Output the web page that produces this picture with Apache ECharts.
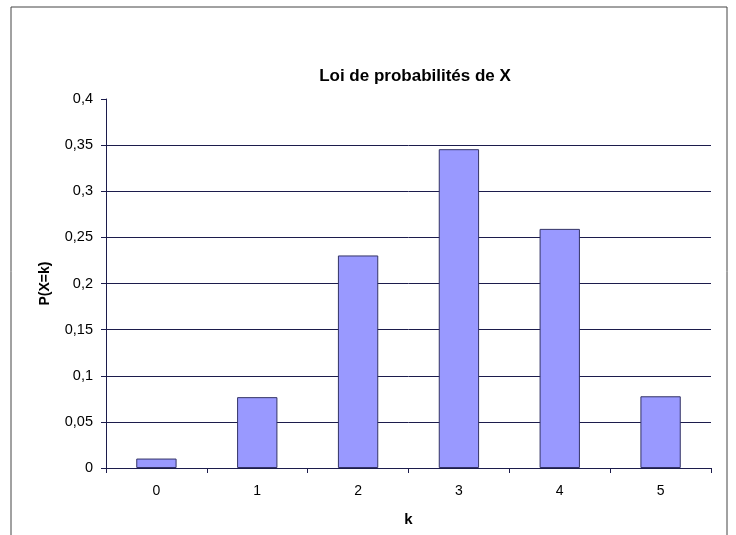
<!DOCTYPE html>
<html>
<head>
<meta charset="utf-8">
<script src="https://cdn.jsdelivr.net/npm/echarts@6/dist/echarts.min.js"></script>
<style>
html,body{margin:0;padding:0;background:#fff;}
#chart{width:736px;height:535px;}
</style>
</head>
<body>
<div id="chart"></div>
<script>
var categories = ['0', '1', '2', '3', '4', '5'];
var probabilities = [0.01024, 0.0768, 0.2304, 0.3456, 0.2592, 0.07776];
var titleText = 'Loi de probabilités de X';
var xAxisName = 'k';
var yAxisName = 'P(X=k)';

var chart = echarts.init(document.getElementById('chart'));
var lineColor = '#1c1c4c';
var font = 'Liberation Sans, Arial, sans-serif';
chart.setOption({
  animation: false,
  backgroundColor: '#fff',
  graphic: [{
    type: 'rect',
    shape: {x: 11, y: 7, width: 716, height: 600},
    style: {fill: 'none', stroke: '#444', lineWidth: 1},
    silent: true
  }],
  title: {
    text: titleText,
    left: 410,
    top: 63,
    textAlign: 'center',
    textStyle: {fontFamily: font, fontSize: 17, fontWeight: 'bold', color: '#000'}
  },
  grid: {left: 106, right: 25, top: 99, bottom: 67, containLabel: false},
  xAxis: {
    type: 'category',
    data: categories,
    name: xAxisName,
    nameLocation: 'middle',
    nameGap: 44,
    nameTextStyle: {fontFamily: font, fontSize: 15, fontWeight: 'bold', color: '#000'},
    axisLine: {lineStyle: {color: lineColor, width: 1}},
    axisTick: {show: true, length: 5, lineStyle: {color: lineColor}},
    axisLabel: {fontFamily: font, fontSize: 14, color: '#000', margin: 16}
  },
  yAxis: {
    type: 'value',
    min: 0,
    max: 0.4,
    interval: 0.05,
    name: yAxisName,
    nameLocation: 'middle',
    nameGap: 54,
    nameRotate: 90,
    nameTextStyle: {fontFamily: font, fontSize: 14, fontWeight: 'bold', color: '#000'},
    axisLine: {show: true, lineStyle: {color: lineColor, width: 1}},
    axisTick: {show: true, length: 5, lineStyle: {color: lineColor}},
    axisLabel: {
      fontFamily: font, fontSize: 14.5, color: '#000', margin: 13,
      formatter: function (v) { return String(+v.toFixed(2)).replace('.', ','); }
    },
    splitLine: {
      show: true,
      lineStyle: {
        color: [lineColor, lineColor, lineColor, lineColor, lineColor, lineColor, lineColor, lineColor, 'rgba(0,0,0,0)'],
        width: 1
      }
    }
  },
  series: [{
    type: 'bar',
    data: probabilities,
    barCategoryGap: '60%',
    itemStyle: {color: '#9999ff', borderColor: '#333366', borderWidth: 1}
  }]
});
</script>
</body>
</html>
